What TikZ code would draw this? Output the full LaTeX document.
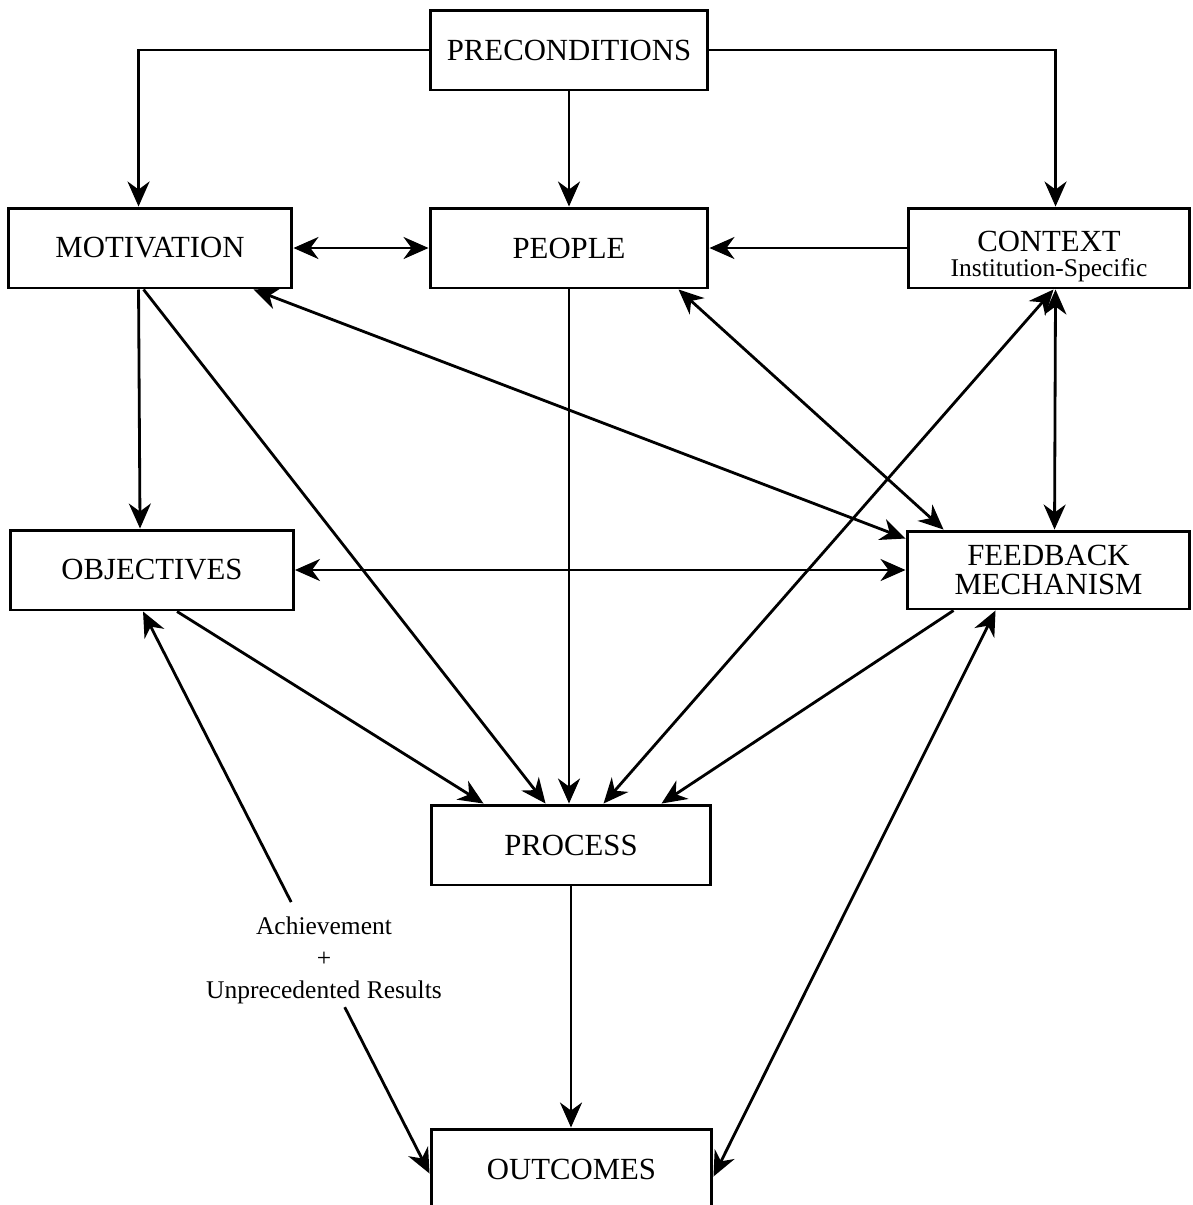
\documentclass[tikz,border=0pt]{standalone}
\usepackage{fontspec}
\setmainfont{Liberation Serif}
\usetikzlibrary{arrows.meta,calc}
\begin{document}
\begin{tikzpicture}[x=0.02cm,y=-0.02cm,
  box/.style={draw,line width=1.7pt,minimum height=1.6cm,inner sep=0pt,
    font=\fontsize{17.5}{21}\selectfont,align=center},
  arr/.style={line width=1.6pt,-{Stealth[length=0.5cm,width=0.44cm,inset=0.16cm]}},
  darr/.style={line width=1.6pt,{Stealth[length=0.5cm,width=0.44cm,inset=0.16cm]}-{Stealth[length=0.5cm,width=0.44cm,inset=0.16cm]}},
  lbl/.style={font=\fontsize{14.5}{18.2}\selectfont,align=center,inner sep=0pt}]
\path[use as bounding box,clip] (0,0) rectangle (1193,1205);

\node[box,minimum width=5.56cm] (prec) at (569,50) {PRECONDITIONS};
\node[box,minimum width=5.68cm] (mot) at (150,248) {MOTIVATION};
\node[box,minimum width=5.56cm] (peo) at (569,248) {PEOPLE};
\node[box,minimum width=5.64cm] (ctx) at (1049,248)
  {\mbox{}\\CONTEXT\\[-7pt]{\fontsize{14.5}{17}\selectfont Institution-Specific}};
\node[box,minimum width=5.66cm] (obj) at (152,570) {OBJECTIVES};
\node[box,minimum width=5.66cm,minimum height=1.56cm] (fb) at (1048.5,570)
  {FEEDBACK\\[-4pt]MECHANISM};
\node[box,minimum width=5.6cm] (proc) at (571,845) {PROCESS};
\node[box,minimum width=5.62cm,minimum height=1.62cm] (out) at (571.5,1169.5) {OUTCOMES};

\node[lbl] (res) at (324,960)
  {Achievement\\+\\Unprecedented Results};

% preconditions
\draw[arr] (prec.west) -| ($(mot.north west)+(132,0)$);
\draw[arr] (prec.south) -- (peo.north);
\draw[arr] (prec.east) -| ($(ctx.north west)+(149,0)$);
% top row
\draw[darr] (mot.east) -- (peo.west);
\draw[arr] (ctx.west) -- (peo.east);
% motivation
\draw[arr] ($(mot.south west)+(132,0)$) -- ($(obj.north west)+(131,0)$);
\draw[arr] ($(mot.south west)+(137,0)$) -- ($(proc.north west)+(116,0)$);
\draw[darr] ($(mot.south west)+(247,0)$) -- ($(fb.north west)+(0,9)$);
% people
\draw[arr] (peo.south) -- (peo.south |- proc.north);
\draw[darr] ($(peo.south west)+(250,0)$) -- ($(fb.north west)+(38,0)$);
% context
\draw[darr] ($(ctx.south west)+(147,0)$) -- ($(proc.north west)+(174,0)$);
\draw[darr] ($(ctx.south west)+(149,0)$) -- ($(fb.north west)+(149,0)$);
% objectives / feedback
\draw[darr] (obj.east) -- (fb.west);
\draw[arr] ($(obj.south west)+(168,0)$) -- ($(proc.north west)+(54,0)$);
\draw[arr] ($(fb.south west)+(48,0)$) -- ($(proc.north west)+(232,0)$);
\draw[darr] ($(fb.south west)+(90,0)$) -- ($(out.north east)+(0,49)$);
% process to outcomes
\draw[arr] (proc.south) -- (proc.south |- out.north);
% achievement line
\coordinate (oa) at ($(obj.south west)+(134,0)$);
\coordinate (ob) at ($(out.north west)+(0,46)$);
\draw[arr] ($(oa)!0.517!(ob)$) -- (oa);
\draw[arr] ($(oa)!0.704!(ob)$) -- (ob);
\end{tikzpicture}
\end{document}
